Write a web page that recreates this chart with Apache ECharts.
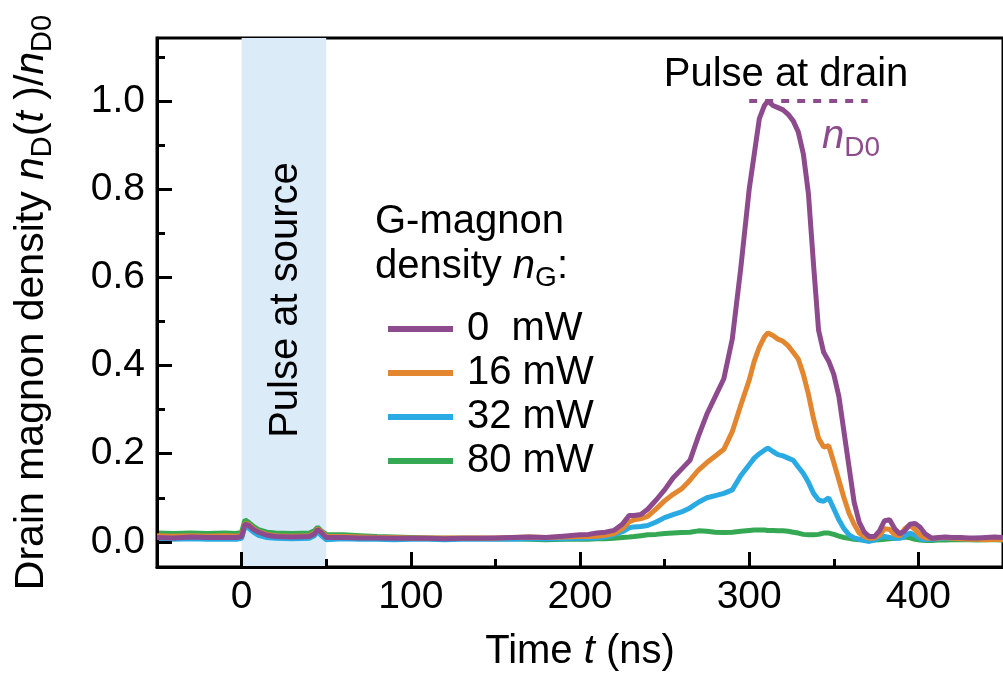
<!DOCTYPE html>
<html>
<head>
<meta charset="utf-8">
<script src="https://cdn.jsdelivr.net/npm/echarts@6/dist/echarts.min.js"></script>
<style>html,body{margin:0;padding:0;background:#fff;}#c{width:1003px;height:678px;}</style>
</head>
<body>
<div id="c"></div>
<script>
// ---- data ----
const timeNs = [-50,-40,-30,-20,-10,-3,0,2,4,7,10,15,20,30,40,43,45,47,50,60,70,80,90,100,110,120,130,140,150,160,170,180,190,200,205,210,215,220,225,229,232,236,240,245,250,255,260,265,270,275,280,285,290,295,300,303,306,309,311,314,317,320,323,326,329,332,335,338,341,344,347,350,353,356,359,362,365,368,371,374,377,380,383,386,389,392,395,398,401,404,408,412,416,420,425,430,435,440,445,450];
const p0mW = [0.010,0.009,0.011,0.010,0.010,0.010,0.012,0.040,0.038,0.028,0.022,0.015,0.012,0.011,0.012,0.018,0.028,0.022,0.010,0.010,0.009,0.009,0.008,0.008,0.008,0.007,0.008,0.008,0.009,0.010,0.011,0.010,0.013,0.016,0.017,0.020,0.022,0.026,0.040,0.060,0.060,0.062,0.074,0.095,0.118,0.145,0.165,0.185,0.24,0.29,0.33,0.37,0.46,0.62,0.80,0.88,0.96,0.99,1.0,0.99,0.985,0.98,0.97,0.955,0.93,0.88,0.79,0.63,0.48,0.43,0.41,0.38,0.33,0.25,0.17,0.09,0.045,0.022,0.012,0.012,0.025,0.048,0.05,0.03,0.018,0.025,0.04,0.042,0.033,0.018,0.008,0.010,0.011,0.010,0.010,0.009,0.009,0.010,0.011,0.010];
const p16mW = [0.014,0.013,0.014,0.013,0.014,0.013,0.015,0.042,0.040,0.030,0.023,0.017,0.014,0.013,0.014,0.020,0.030,0.024,0.012,0.012,0.011,0.010,0.010,0.009,0.009,0.009,0.009,0.009,0.009,0.010,0.011,0.010,0.011,0.012,0.012,0.013,0.015,0.019,0.030,0.045,0.050,0.053,0.058,0.075,0.093,0.108,0.12,0.14,0.163,0.18,0.195,0.21,0.25,0.31,0.367,0.41,0.442,0.465,0.474,0.468,0.46,0.455,0.445,0.43,0.415,0.38,0.335,0.28,0.235,0.215,0.218,0.18,0.14,0.10,0.065,0.04,0.02,0.012,0.008,0.009,0.015,0.03,0.028,0.016,0.014,0.03,0.038,0.028,0.015,0.009,0.008,0.009,0.010,0.008,0.007,0.006,0.006,0.005,0.006,0.005];
const p32mW = [0.007,0.006,0.007,0.006,0.006,0.006,0.008,0.035,0.032,0.022,0.015,0.010,0.008,0.007,0.008,0.014,0.024,0.015,0.005,0.007,0.006,0.006,0.005,0.006,0.006,0.005,0.006,0.006,0.006,0.006,0.007,0.007,0.007,0.008,0.008,0.009,0.011,0.016,0.023,0.032,0.034,0.035,0.037,0.045,0.055,0.062,0.068,0.077,0.09,0.10,0.105,0.11,0.118,0.15,0.175,0.19,0.20,0.208,0.213,0.205,0.198,0.195,0.19,0.185,0.17,0.155,0.135,0.11,0.095,0.092,0.10,0.075,0.05,0.03,0.016,0.009,0.006,0.003,0.001,0.004,0.010,0.012,0.010,0.008,0.008,0.013,0.020,0.015,0.007,0.005,0.006,0.007,0.008,0.008,0.007,0.007,0.008,0.007,0.008,0.007];
const p80mW = [0.020,0.019,0.020,0.019,0.020,0.019,0.022,0.050,0.045,0.035,0.028,0.022,0.020,0.019,0.020,0.025,0.033,0.025,0.017,0.016,0.014,0.012,0.011,0.010,0.009,0.008,0.008,0.008,0.007,0.007,0.006,0.005,0.006,0.006,0.006,0.007,0.007,0.008,0.010,0.011,0.012,0.014,0.016,0.017,0.019,0.020,0.021,0.022,0.025,0.024,0.022,0.021,0.022,0.024,0.026,0.027,0.027,0.027,0.026,0.026,0.025,0.025,0.024,0.022,0.020,0.017,0.016,0.016,0.017,0.020,0.020,0.017,0.013,0.010,0.008,0.006,0.005,0.005,0.004,0.004,0.005,0.006,0.007,0.008,0.010,0.011,0.009,0.006,0.004,0.003,0.003,0.004,0.004,0.005,0.005,0.005,0.004,0.005,0.005,0.004];
const seriesNames = ['0  mW','16 mW','32 mW','80 mW'];
const xMajorTicks = [0,100,200,300,400];
const xMinorTicks = [50,150,250,350];
const yMajorTicks = [0,0.2,0.4,0.6,0.8,1.0];
const yMinorTicks = [0.1,0.3,0.5,0.7,0.9,1.1];
const sourceBand = [0,50];
const refLineX = [300,370];
const refLineY = 1.0;

// ---- styling ----
const FONT = 'Liberation Sans, Arial, Helvetica, sans-serif';
const COLORS = {'0  mW':'#8d4a8c','16 mW':'#e2862f','32 mW':'#2aaae2','80 mW':'#35a853'};
const pair = (ys) => timeNs.map((t,i)=>[t, ys[i]]);
const valuesByName = {'0  mW':p0mW,'16 mW':p16mW,'32 mW':p32mW,'80 mW':p80mW};
const zByName = {'0  mW':6,'16 mW':5,'32 mW':4,'80 mW':3};

const chart = echarts.init(document.getElementById('c'), null, {renderer:'canvas'});
const XMIN=-50, XMAX=450, YMIN=-0.057, YMAX=1.143;
const FS = 40, FSUB = 28, FTICK = 39;

const richBase = {
  r:{fontFamily:FONT,fontSize:FS,color:'#000',lineHeight:50},
  i:{fontFamily:FONT,fontSize:FS,color:'#000',fontStyle:'italic',lineHeight:50},
  s:{fontFamily:FONT,fontSize:FSUB,color:'#000',verticalAlign:'bottom',lineHeight:28}
};
const richName = {
  r:{fontFamily:FONT,fontSize:41,color:'#000',lineHeight:50},
  i:{fontFamily:FONT,fontSize:41,color:'#000',fontStyle:'italic',lineHeight:50},
  s:{fontFamily:FONT,fontSize:29,color:'#000',verticalAlign:'bottom',lineHeight:28}
};

const lineSeries = ['80 mW','32 mW','16 mW','0  mW'].map(name => ({
  name, type:'line', data: pair(valuesByName[name]), showSymbol:false, symbol:'none',
  lineStyle:{color:COLORS[name], width:5}, itemStyle:{color:COLORS[name]},
  z: zByName[name], silent:true, animation:false,
  markLine: name==='0  mW' ? {
    silent:true, symbol:['none','none'], label:{show:false},
    lineStyle:{color:COLORS[name], type:[8,8], width:4},
    data:[[{coord:[refLineX[0],refLineY]},{coord:[refLineX[1],refLineY]}]]
  } : undefined
}));

const option = {
  animation:false,
  backgroundColor:'#fff',
  grid:{left:157, right:-5, top:38, bottom:111, show:true, borderColor:'#000', borderWidth:3, backgroundColor:'transparent'},
  xAxis:[
    {type:'value', min:XMIN, max:XMAX, position:'bottom', z:5,
     axisLine:{show:true, onZero:false, lineStyle:{color:'#000', width:3}},
     axisTick:{show:true, inside:true, length:15, lineStyle:{color:'#000', width:3}, customValues:xMajorTicks},
     axisLabel:{show:true, margin:11, fontSize:FTICK, fontFamily:FONT, color:'#000', customValues:xMajorTicks},
     splitLine:{show:false},
     name:'Time {i|t} (ns)', nameLocation:'middle', nameGap:60,
     nameTextStyle:{fontFamily:FONT, fontSize:FS, color:'#000', rich:richBase}
    },
    {type:'value', min:XMIN, max:XMAX, position:'bottom', z:5,
     axisLine:{show:false, onZero:false}, axisLabel:{show:false}, splitLine:{show:false},
     axisTick:{show:true, inside:true, length:8, lineStyle:{color:'#000', width:3}, customValues:xMinorTicks}
    }
  ],
  yAxis:[
    {type:'value', min:YMIN, max:YMAX, position:'left', z:5,
     axisLine:{show:true, onZero:false, lineStyle:{color:'#000', width:3}},
     axisTick:{show:true, inside:true, length:15, lineStyle:{color:'#000', width:3}, customValues:yMajorTicks},
     axisLabel:{show:true, margin:12, fontSize:FTICK, fontFamily:FONT, color:'#000', customValues:yMajorTicks,
       formatter:(v)=>v.toFixed(1)},
     splitLine:{show:false},
     name:'Drain magnon density {i|n}{s|D}({i|t} )/{i|n}{s|D0}', nameLocation:'middle', nameGap:100, nameRotate:90,
     nameTextStyle:{fontFamily:FONT, fontSize:41, color:'#000', rich:richName}
    },
    {type:'value', min:YMIN, max:YMAX, position:'left', z:5,
     axisLine:{show:false, onZero:false}, axisLabel:{show:false}, splitLine:{show:false},
     axisTick:{show:true, inside:true, length:8, lineStyle:{color:'#000', width:3}, customValues:yMinorTicks}
    }
  ],
  legend:{
    data:seriesNames, orient:'vertical', left:383, top:304, itemWidth:65, itemHeight:6, itemGap:4,
    icon:'rect', selectedMode:false,
    textStyle:{fontFamily:FONT, fontSize:FS, color:'#000', lineHeight:39, padding:[0,0,0,9]}
  },
  series:[
    {type:'line', name:'band', data:[], z:1, silent:true,
     markArea:{silent:true, itemStyle:{color:'#dbebf8'}, label:{show:false},
       data:[[{xAxis:sourceBand[0]},{xAxis:sourceBand[1]}]]}}
  ].concat(lineSeries),
  graphic:[
    {type:'text', x:286, y:300, rotation:Math.PI/2, z:10,
     style:{text:'Pulse at source', fontFamily:FONT, fontSize:FS, fill:'#000', align:'center', verticalAlign:'middle'}},
    {type:'text', x:786, y:75, z:10,
     style:{text:'Pulse at drain', fontFamily:FONT, fontSize:FS, fill:'#000', align:'center', verticalAlign:'middle'}},
    {type:'text', x:822, y:137, z:10,
     style:{text:'{i|n}{s|D0}', align:'left', verticalAlign:'middle',
       rich:{i:{fontFamily:FONT,fontSize:FS,fill:'#8d4a8c',color:'#8d4a8c',fontStyle:'italic',lineHeight:50},
             s:{fontFamily:FONT,fontSize:FSUB,fill:'#8d4a8c',color:'#8d4a8c',verticalAlign:'bottom',lineHeight:28}}}},
    {type:'text', x:375, y:222, z:10,
     style:{text:'G-magnon', fontFamily:FONT, fontSize:FS, fill:'#000', align:'left', verticalAlign:'middle'}},
    {type:'text', x:375, y:267, z:10,
     style:{text:'density {i|n}{s|G}:', align:'left', verticalAlign:'middle', fontFamily:FONT, fontSize:FS, fill:'#000',
       rich:{i:{fontFamily:FONT,fontSize:FS,fill:'#000',fontStyle:'italic',lineHeight:50},
             s:{fontFamily:FONT,fontSize:FSUB,fill:'#000',verticalAlign:'bottom',lineHeight:28}}}}
  ]
};
chart.setOption(option);
</script>
</body>
</html>
